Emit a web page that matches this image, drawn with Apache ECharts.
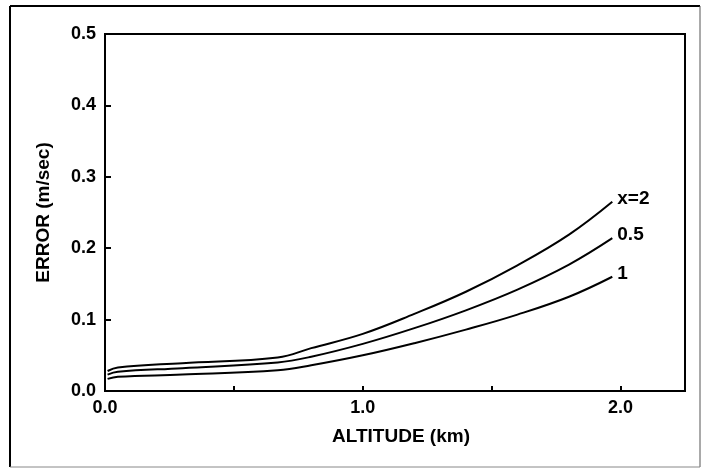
<!DOCTYPE html>
<html>
<head>
<meta charset="utf-8">
<script src="https://cdn.jsdelivr.net/npm/echarts@6/dist/echarts.min.js"></script>
<style>
html,body{margin:0;padding:0;background:#fff;}
#chart{width:706px;height:469px;}
</style>
</head>
<body>
<div id="chart"></div>
<script>
// Data
const altitude = [0.01, 0.05, 0.3, 0.67, 0.8, 1.0, 1.2, 1.4, 1.6, 1.8, 1.968];
const errX2  = [0.028, 0.033, 0.039, 0.047, 0.060, 0.080, 0.108, 0.139, 0.176, 0.219, 0.265];
const errX05 = [0.023, 0.027, 0.032, 0.040, 0.048, 0.066, 0.088, 0.113, 0.142, 0.177, 0.214];
const errX1  = [0.017, 0.020, 0.023, 0.029, 0.036, 0.050, 0.067, 0.086, 0.107, 0.132, 0.160];
const seriesNames = ['x=2', '0.5', '1'];
const seriesValues = [errX2, errX05, errX1];
const xTitle = 'ALTITUDE (km)';
const yTitle = 'ERROR (m/sec)';

const FONT = "'Liberation Sans', Arial, Helvetica, sans-serif";
const chart = echarts.init(document.getElementById('chart'), null, {renderer: 'canvas'});

const series = seriesNames.map((name, i) => ({
  name: name,
  type: 'line',
  data: altitude.map((a, j) => [a, seriesValues[i][j]]),
  showSymbol: false,
  smooth: 0.4,
  lineStyle: {color: '#000', width: 2},
  itemStyle: {color: '#000'},
  animation: false,
  endLabel: {
    show: true,
    formatter: name,
    color: '#000',
    fontFamily: FONT,
    fontWeight: 'bold',
    fontSize: 19,
    distance: 5,
    offset: [0, -3]
  }
}));

chart.setOption({
  backgroundColor: '#fff',
  animation: false,
  grid: {
    left: 105, top: 34, right: 21, bottom: 78,
    show: true, borderColor: '#000', borderWidth: 2, backgroundColor: 'transparent'
  },
  xAxis: {
    type: 'value',
    min: 0, max: 2.25, interval: 0.5,
    name: xTitle,
    nameLocation: 'middle',
    nameGap: 36,
    nameTextStyle: {color: '#000', fontFamily: FONT, fontWeight: 'bold', fontSize: 19, padding: [0, 0, 0, 12]},
    axisLine: {show: true, lineStyle: {color: '#000', width: 2}},
    axisTick: {show: true, inside: true, length: 5, lineStyle: {color: '#000', width: 2}},
    splitLine: {show: false},
    axisLabel: {
      color: '#000', fontFamily: FONT, fontWeight: 'bold', fontSize: 18, margin: 8,
      formatter: v => (Math.abs(v - Math.round(v)) < 1e-9 ? v.toFixed(1) : '')
    }
  },
  yAxis: {
    type: 'value',
    min: 0, max: 0.5, interval: 0.1,
    name: yTitle,
    nameLocation: 'middle',
    nameGap: 52,
    nameTextStyle: {color: '#000', fontFamily: FONT, fontWeight: 'bold', fontSize: 19},
    axisLine: {show: true, lineStyle: {color: '#000', width: 2}},
    axisTick: {show: true, inside: true, length: 6, lineStyle: {color: '#000', width: 2}},
    splitLine: {show: false},
    axisLabel: {
      color: '#000', fontFamily: FONT, fontWeight: 'bold', fontSize: 18, margin: 9,
      formatter: v => v.toFixed(1)
    }
  },
  graphic: [
    {type: 'line', shape: {x1: 10, y1: 6, x2: 10, y2: 467}, style: {stroke: '#000', lineWidth: 2}},
    {type: 'line', shape: {x1: 10, y1: 6, x2: 700, y2: 6}, style: {stroke: '#000', lineWidth: 2}},
    {type: 'line', shape: {x1: 700, y1: 6, x2: 700, y2: 467}, style: {stroke: '#555', lineWidth: 1}},
    {type: 'line', shape: {x1: 10, y1: 467, x2: 700, y2: 467}, style: {stroke: '#888', lineWidth: 1}}
  ],
  series: series
});
</script>
</body>
</html>
